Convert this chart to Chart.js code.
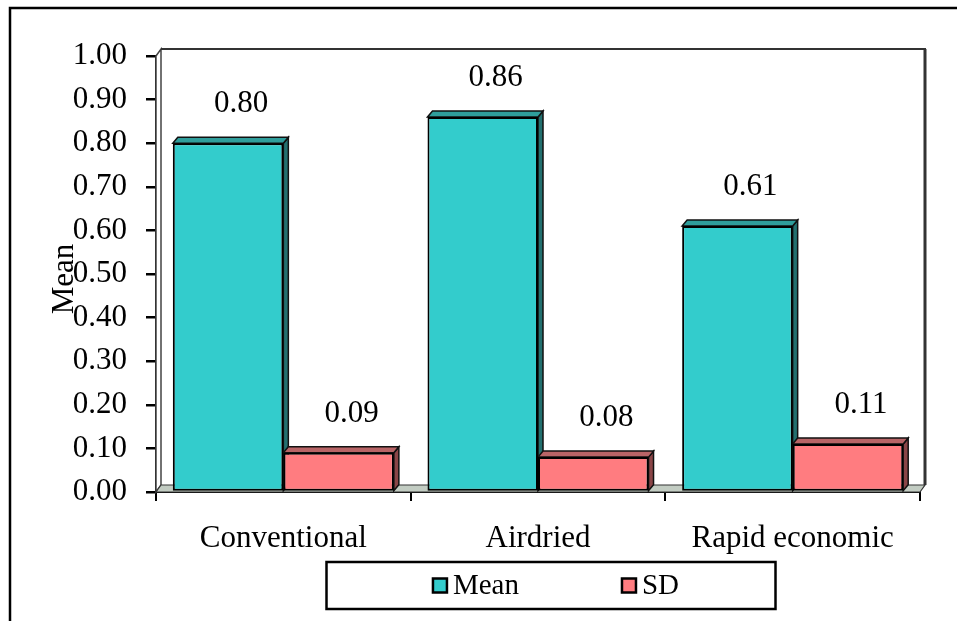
<!DOCTYPE html>
<html>
<head>
<meta charset="utf-8">
<script src="https://cdn.jsdelivr.net/npm/chart.js@4.4.0/dist/chart.umd.min.js"></script>
<style>
  html, body { margin: 0; padding: 0; background: #fff; }
  #chart { display: block; }
</style>
</head>
<body>
<canvas id="chart" width="957" height="621"></canvas>
<script>
const categories = ['Conventional', 'Airdried', 'Rapid economic'];
const meanValues = [0.80, 0.86, 0.61];
const sdValues = [0.09, 0.08, 0.11];
const seriesNames = ['Mean', 'SD'];
const yAxisTitle = 'Mean';

const FONT = "'Liberation Serif', 'Times New Roman', serif";
const FONT_SIZE = 31;
const LEGEND_SIZE = 29;

// face colours for the fake 3D look
const shades = [
  { front: '#33CCCC', top: '#2f9e9c', side: '#23706f' },
  { front: '#FF7C80', top: '#b86466', side: '#8a4547' },
];

const depth = { dx: 5, dy: -6 };
const wallDepth = { dx: 5, dy: -7 };

const poly = (ctx, pts, fill, stroke, lw) => {
  ctx.beginPath();
  ctx.moveTo(pts[0][0], pts[0][1]);
  for (let i = 1; i < pts.length; i++) ctx.lineTo(pts[i][0], pts[i][1]);
  ctx.closePath();
  if (fill) { ctx.fillStyle = fill; ctx.fill(); }
  if (stroke) { ctx.strokeStyle = stroke; ctx.lineWidth = lw || 1; ctx.stroke(); }
};

const fake3d = {
  id: 'fake3d',
  beforeDatasetsDraw(chart) {
    const { ctx, chartArea: a } = chart;
    const wx = wallDepth.dx, wy = wallDepth.dy;
    ctx.save();
    // side wall
    poly(ctx, [[a.left, a.top], [a.left + wx, a.top + wy], [a.left + wx, a.bottom + wy], [a.left, a.bottom]], '#fff', '#444', 1.5);
    // back wall edges
    ctx.strokeStyle = '#333';
    ctx.lineWidth = 2;
    ctx.beginPath();
    ctx.moveTo(a.left + wx, a.top + wy);
    ctx.lineTo(a.right + wx + 1, a.top + wy);
    ctx.stroke();
    ctx.lineWidth = 3;
    ctx.beginPath();
    ctx.moveTo(a.right + wx, a.top + wy);
    ctx.lineTo(a.right + wx, a.bottom + wy);
    ctx.stroke();
    // floor
    poly(ctx, [[a.left, a.bottom], [a.left + wx, a.bottom + wy], [a.right + wx, a.bottom + wy], [a.right, a.bottom]], '#c2ccc2', '#333', 1.2);

    // top and side faces of each bar
    chart.data.datasets.forEach((ds, i) => {
      chart.getDatasetMeta(i).data.forEach((bar) => {
        const l = bar.x - bar.width / 2, r = bar.x + bar.width / 2;
        const t = bar.y, b = bar.base;
        poly(ctx, [[r, t], [r + depth.dx, t + depth.dy], [r + depth.dx, b + depth.dy], [r, b]], shades[i].side, '#111', 1.5);
        poly(ctx, [[l, t], [l + depth.dx, t + depth.dy], [r + depth.dx, t + depth.dy], [r, t]], shades[i].top, '#111', 1.5);
      });
    });
    ctx.restore();
  },
  afterDatasetsDraw(chart) {
    const { ctx } = chart;
    ctx.save();
    ctx.font = FONT_SIZE + 'px ' + FONT;
    ctx.fillStyle = '#000';
    ctx.textAlign = 'center';
    ctx.textBaseline = 'middle';
    chart.data.datasets.forEach((ds, i) => {
      chart.getDatasetMeta(i).data.forEach((bar, j) => {
        ctx.fillText(ds.data[j].toFixed(2), bar.x + 13, bar.y - 39);
      });
    });
    ctx.restore();
  },
  afterDraw(chart) {
    const { ctx, chartArea: a } = chart;
    ctx.save();
    // outer frame (runs off the right and bottom edges)
    ctx.strokeStyle = '#000';
    ctx.lineWidth = 2.5;
    ctx.strokeRect(10, 8, 1000, 700);

    // y axis title, overlapping the tick labels like the original
    ctx.font = FONT_SIZE + 'px ' + FONT;
    ctx.fillStyle = '#000';
    ctx.translate(65, (a.top + a.bottom) / 2 + 5);
    ctx.rotate(-Math.PI / 2);
    ctx.textAlign = 'center';
    ctx.textBaseline = 'middle';
    ctx.fillText(yAxisTitle, 0, 0);
    ctx.setTransform(1, 0, 0, 1, 0, 0);

    // legend box
    ctx.font = LEGEND_SIZE + 'px ' + FONT;
    const box = { x: 326.5, y: 562, w: 449, h: 47 };
    ctx.lineWidth = 2.5;
    ctx.strokeRect(box.x, box.y, box.w, box.h);
    const sq = 14, gapText = 6, gapItem = 103;
    const widths = seriesNames.map((n) => sq + gapText + ctx.measureText(n).width);
    const total = widths.reduce((s, w) => s + w, 0) + gapItem * (widths.length - 1);
    let x = box.x + box.w / 2 - total / 2 + 5;
    const cy = box.y + box.h / 2;
    ctx.textAlign = 'left';
    ctx.textBaseline = 'middle';
    seriesNames.forEach((n, i) => {
      ctx.fillStyle = shades[i].front;
      ctx.fillRect(x, cy - sq / 2, sq, sq);
      ctx.lineWidth = 2.5;
      ctx.strokeRect(x, cy - sq / 2, sq, sq);
      ctx.fillStyle = '#000';
      ctx.fillText(n, x + sq + gapText, cy + 1);
      x += widths[i] + gapItem;
    });
    ctx.restore();
  },
};

new Chart(document.getElementById('chart'), {
  type: 'bar',
  data: {
    labels: categories,
    datasets: [
      { label: seriesNames[0], data: meanValues, backgroundColor: shades[0].front },
      { label: seriesNames[1], data: sdValues, backgroundColor: shades[1].front },
    ],
  },
  options: {
    responsive: false,
    animation: false,
    devicePixelRatio: 1,
    layout: { padding: { left: 0, top: 56, right: 37, bottom: 0 } },
    datasets: {
      bar: {
        categoryPercentage: 0.868,
        barPercentage: 1.0,
        borderColor: '#000',
        borderWidth: 2,
        borderSkipped: false,
      },
    },
    plugins: {
      legend: { display: false },
      tooltip: { enabled: false },
    },
    scales: {
      x: {
        afterFit: (s) => { s.height = 129; },
        grid: { drawOnChartArea: false, color: '#000', lineWidth: 2, tickLength: 9, offset: true },
        border: { color: '#000', width: 2 },
        ticks: { color: '#000', font: { family: FONT, size: FONT_SIZE }, padding: 19 },
      },
      y: {
        min: 0,
        max: 1,
        afterFit: (s) => { s.width = 156; },
        grid: { drawOnChartArea: false, color: '#000', lineWidth: 2.5, tickLength: 10 },
        border: { color: '#000', width: 2 },
        ticks: {
          stepSize: 0.1,
          color: '#000',
          font: { family: FONT, size: FONT_SIZE },
          padding: 19,
          callback: (v) => v.toFixed(2),
        },
      },
    },
  },
  plugins: [fake3d],
});
</script>
</body>
</html>
